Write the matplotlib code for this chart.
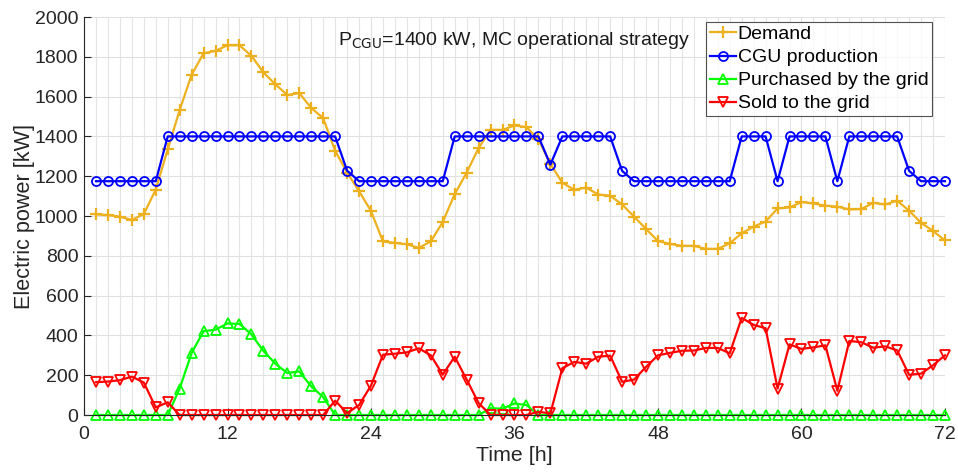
import numpy as np
import matplotlib
matplotlib.use("Agg")
import matplotlib.pyplot as plt
from matplotlib.ticker import MultipleLocator

plt.rcParams['font.family'] = ['Liberation Sans', 'DejaVu Sans']

hours = np.arange(1, 73)

demand = [1008, 1005, 997, 980, 1010, 1133, 1335, 1533, 1710, 1818, 1830, 1858,
          1858, 1805, 1722, 1662, 1608, 1618, 1543, 1492, 1328, 1218, 1125, 1025,
          872, 865, 858, 840, 872, 970, 1110, 1218, 1342, 1433, 1433, 1455,
          1447, 1385, 1262, 1167, 1132, 1143, 1108, 1102, 1058, 997, 935, 874,
          860, 850, 850, 835, 835, 863, 913, 947, 972, 1038, 1043, 1070,
          1063, 1052, 1047, 1033, 1035, 1066, 1058, 1077, 1027, 966, 925, 877]

cgu = [1175] * 6 + [1400] * 15 + [1228] + [1175] * 8 + [1400] * 8 + [1258] \
    + [1400] * 5 + [1227] + [1175] * 9 + [1400] * 3 + [1175] + [1400] * 4 \
    + [1175] + [1400] * 5 + [1227] + [1175] * 3

purchased = [0, 0, 0, 0, 0, 0, 0, 133, 312, 421, 429, 460,
             458, 405, 322, 258, 211, 219, 144, 90, 0, 0, 0, 0,
             0, 0, 0, 0, 0, 0, 0, 0, 0, 34, 32, 58,
             50, 0, 0, 0, 0, 0, 0, 0, 0, 0, 0, 0,
             0, 0, 0, 0, 0, 0, 0, 0, 0, 0, 0, 0,
             0, 0, 0, 0, 0, 0, 0, 0, 0, 0, 0, 0]

sold = [165, 168, 175, 193, 163, 38, 64, 0, 0, 0, 0, 0,
        0, 0, 0, 0, 0, 0, 0, 0, 72, 10, 50, 148,
        303, 308, 315, 335, 300, 203, 293, 178, 60, 0, 0, 0,
        0, 16, 8, 235, 267, 258, 293, 298, 167, 178, 242, 300,
        312, 323, 324, 337, 337, 310, 488, 453, 436, 133, 355, 332,
        340, 350, 122, 372, 366, 338, 345, 325, 202, 208, 250, 300]

fig = plt.figure(figsize=(9.58, 4.73), dpi=100)
ax = fig.add_axes([0.0877, 0.1226, 0.8987, 0.8414])

lw = 1.6
ms = 6.5
ax.plot(hours, demand, color='#EDB120', marker='+', ms=8, mew=1.6, lw=lw,
        label='Demand', clip_on=False)
ax.plot(hours, cgu, color='b', marker='o', ms=ms, mfc='none', mew=1.3, lw=lw,
        label='CGU production', clip_on=False)
ax.plot(hours, purchased, color=(0, 1, 0), marker='^', ms=ms, mfc='none', mew=1.3,
        lw=lw, label='Purchased by the grid', clip_on=False)
ax.plot(hours, sold, color='r', marker='v', ms=ms, mfc='none', mew=1.3, lw=lw,
        label='Sold to the grid', clip_on=False)

ax.set_xlim(0, 72)
ax.set_ylim(0, 2000)
ax.xaxis.set_major_locator(MultipleLocator(12))
ax.xaxis.set_minor_locator(MultipleLocator(1))
ax.yaxis.set_major_locator(MultipleLocator(200))

ax.grid(True, which='major', color='#e0e0e0', lw=0.8)
ax.grid(True, which='minor', axis='x', color='#e4e4e4', lw=0.8)
ax.set_axisbelow(True)

for s in ['top', 'right']:
    ax.spines[s].set_visible(False)
for s in ['left', 'bottom']:
    ax.spines[s].set_color('#262626')
    ax.spines[s].set_linewidth(0.8)

ax.tick_params(which='both', direction='in', colors='#262626', labelsize=14)
ax.tick_params(which='minor', length=0)
ax.tick_params(which='major', length=5, pad=4)
ax.tick_params(axis='x', which='major', pad=8)

ax.set_xlabel('Time [h]', fontsize=15.4, color='#262626', labelpad=2)
ax.set_ylabel('Electric power [kW]', fontsize=15.6, color='#262626', labelpad=0)

ax.text(21.2, 1880, r'P$_{\mathrm{CGU}}$=1400 kW, MC operational strategy',
        fontsize=14, color='#1a1a1a', va='center', ha='left')

leg = ax.legend(loc='upper right', bbox_to_anchor=(0.9855, 0.988), fontsize=14,
                frameon=True, fancybox=False, borderpad=0.2, labelspacing=0.28,
                handlelength=1.35, handletextpad=0.1, borderaxespad=0.0)
leg.get_frame().set_edgecolor('#262626')
leg.get_frame().set_linewidth(0.8)

fig.savefig('out.png', dpi=100)
